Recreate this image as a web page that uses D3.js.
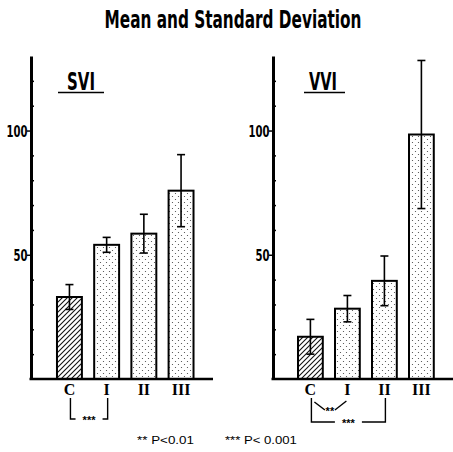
<!DOCTYPE html>
<html>
<head>
<meta charset="utf-8">
<script src="https://cdn.jsdelivr.net/npm/d3@7"></script>
<style>
  body { margin: 0; background: #fff; }
  .cond { font-family: 'Liberation Sans Narrow', 'DejaVu Sans Condensed', sans-serif; font-weight: bold; font-stretch: condensed; }
  .serif { font-family: 'Liberation Serif', 'DejaVu Serif', serif; font-weight: bold; }
  .plain { font-family: 'Liberation Sans', Arial, sans-serif; }
</style>
</head>
<body>
<script>
const categories = ['C', 'I', 'II', 'III']
const sviMean = [33, 54, 58.5, 75.8]
const sviSD = [5, 3, 7.8, 14.5]
const vviMean = [17, 28.3, 39.5, 98.4]
const vviSD = [7, 5.3, 10, 29.8]
const yMajor = [50, 100]
const yMinor = [10, 20, 30, 40, 60, 70, 80, 90, 110, 120]
const comparisons = [
    { panel: 'SVI', from: 'C', to: 'I', mark: '***', kind: 'bracket' },
    { panel: 'VVI', from: 'C', to: 'I', mark: '**', kind: 'vee' },
    { panel: 'VVI', from: 'C', to: 'II', mark: '***', kind: 'bracket' }
]
const legendItems = ['** P<0.01', '*** P< 0.001']

const width = 453
const height = 452

const svg = d3.select('body').append('svg')
    .attr('width', width)
    .attr('height', height)

// text squeezed horizontally to a given width (the scan uses a very narrow face)
function fitText(parent, txt, x, y, anchor, cls, size, targetW) {
    const g = parent.append('g').attr('transform', `translate(${x},${y})`)
    const t = g.append('text')
        .attr('class', cls)
        .attr('text-anchor', anchor)
        .attr('font-size', size)
        .attr('fill', '#000')
        .text(txt)
    const w = t.node().getComputedTextLength()
    g.attr('transform', `translate(${x},${y}) scale(${targetW / w},1)`)
    return t
}

// fills
const defs = svg.append('defs')
const hatch = defs.append('pattern')
    .attr('id', 'hatch')
    .attr('patternUnits', 'userSpaceOnUse')
    .attr('width', 5)
    .attr('height', 5)
hatch.append('path')
    .attr('d', 'M-1,1 l2,-2 M0,5 l5,-5 M4,6 l2,-2')
    .attr('stroke', '#111')
    .attr('stroke-width', 1.1)

const dots = defs.append('pattern')
    .attr('id', 'dots')
    .attr('patternUnits', 'userSpaceOnUse')
    .attr('width', 6)
    .attr('height', 6)
dots.append('rect').attr('width', 6).attr('height', 6).attr('fill', '#fff')
dots.append('circle').attr('cx', 1.5).attr('cy', 1.5).attr('r', 0.6).attr('fill', '#444')
dots.append('circle').attr('cx', 4.5).attr('cy', 4.5).attr('r', 0.6).attr('fill', '#444')

fitText(svg, 'Mean and Standard Deviation', 233, 28, 'middle', 'cond', 25, 257)

const y = d3.scaleLinear().domain([0, 130]).range([379, 56])

const panels = [
    { name: 'SVI', means: sviMean, sds: sviSD, axisX: 31, axisEnd: 213, band: [44.7, 205.8], labelX: 81, lineFrom: 58, lineTo: 104 },
    { name: 'VVI', means: vviMean, sds: vviSD, axisX: 273, axisEnd: 453, band: [285.8, 446], labelX: 323, lineFrom: 304, lineTo: 345 }
]

panels.forEach(p => {
    const x = d3.scaleBand().domain(categories).range(p.band).paddingInner(0.33).paddingOuter(0.33)
    const g = svg.append('g')

    // bars
    g.selectAll('rect.bar')
        .data(categories)
        .enter().append('rect')
        .attr('class', 'bar')
        .attr('x', d => x(d))
        .attr('y', (d, i) => y(p.means[i]))
        .attr('width', x.bandwidth())
        .attr('height', (d, i) => y(0) - y(p.means[i]))
        .attr('fill', d => d === 'C' ? 'url(#hatch)' : 'url(#dots)')
        .attr('stroke', '#000')
        .attr('stroke-width', 2)

    // error bars
    const eb = g.selectAll('g.err')
        .data(categories)
        .enter().append('g')
        .attr('class', 'err')
        .attr('stroke', '#000')
        .attr('stroke-width', 1.6)
    const cx = d => x(d) + x.bandwidth() / 2
    eb.append('line')
        .attr('x1', cx).attr('x2', cx)
        .attr('y1', (d, i) => y(p.means[i] - p.sds[i]))
        .attr('y2', (d, i) => y(p.means[i] + p.sds[i]))
    eb.append('line')
        .attr('x1', d => cx(d) - 4).attr('x2', d => cx(d) + 4)
        .attr('y1', (d, i) => y(p.means[i] + p.sds[i]))
        .attr('y2', (d, i) => y(p.means[i] + p.sds[i]))
    eb.append('line')
        .attr('x1', d => cx(d) - 4).attr('x2', d => cx(d) + 4)
        .attr('y1', (d, i) => y(p.means[i] - p.sds[i]))
        .attr('y2', (d, i) => y(p.means[i] - p.sds[i]))

    // y axis
    const ax = g.append('g')
        .attr('transform', `translate(${p.axisX},0)`)
        .call(d3.axisLeft(y).tickValues(yMajor).tickSize(4).tickSizeOuter(0).tickFormat(''))
    ax.select('.domain').attr('stroke-width', 3)
    ax.selectAll('.tick line').attr('stroke-width', 1.5)
    g.append('g')
        .attr('transform', `translate(${p.axisX},0)`)
        .call(d3.axisRight(y).tickValues(yMinor).tickSize(3).tickFormat(''))
        .call(s => s.select('.domain').remove())
        .selectAll('.tick line').attr('stroke-width', 1.5)
    yMajor.forEach(v => {
        const lbl = String(v)
        fitText(g, lbl, p.axisX - 3.5, y(v) + 6, 'end', 'cond', 16, lbl.length * 7)
    })

    // x axis
    g.append('line')
        .attr('x1', p.axisX - 1.5).attr('x2', p.axisEnd)
        .attr('y1', y(0)).attr('y2', y(0))
        .attr('stroke', '#000')
        .attr('stroke-width', 2.5)

    g.selectAll('text.cat')
        .data(categories)
        .enter().append('text')
        .attr('class', 'serif')
        .attr('x', cx)
        .attr('y', 395)
        .attr('text-anchor', 'middle')
        .attr('font-size', 16)
        .text(d => d)

    // panel label
    fitText(g, p.name, p.labelX, 90, 'middle', 'cond', 24, 28)
    g.append('line')
        .attr('x1', p.lineFrom).attr('x2', p.lineTo)
        .attr('y1', 92.5).attr('y2', 92.5)
        .attr('stroke', '#000')
        .attr('stroke-width', 1.5)

    // significance marks
    comparisons.filter(c => c.panel === p.name).forEach(c => {
        const x1 = cx(c.from) + 1
        const x2 = cx(c.to) + 1
        const mid = (x1 + x2) / 2
        const s = g.append('g').attr('stroke', '#000').attr('stroke-width', 1.4).attr('fill', 'none')
        let ym
        if (c.kind === 'bracket') {
            ym = p.name === 'SVI' ? 419 : 422
            const gap = c.mark.length * 3.5 + 3
            s.append('path').attr('d', `M${x1},398 V${ym} H${mid - gap}`)
            s.append('path').attr('d', `M${x2},398 V${ym} H${mid + gap}`)
        } else {
            ym = 410
            s.append('path').attr('d', `M${x1 + 3},402 L${mid - 5},${ym}`)
            s.append('path').attr('d', `M${x2 - 2},401 L${mid + 5},${ym}`)
        }
        g.append('text')
            .attr('class', 'plain')
            .attr('x', mid).attr('y', ym + 5)
            .attr('text-anchor', 'middle')
            .attr('font-size', 11)
            .attr('font-weight', 'bold')
            .attr('fill', '#000')
            .text(c.mark)
    })
})

// legend
const legendX = [137, 225]
const legendW = [57, 72]
legendItems.forEach((d, i) => fitText(svg, d, legendX[i], 444, 'start', 'plain', 11, legendW[i]))
</script>
</body>
</html>
